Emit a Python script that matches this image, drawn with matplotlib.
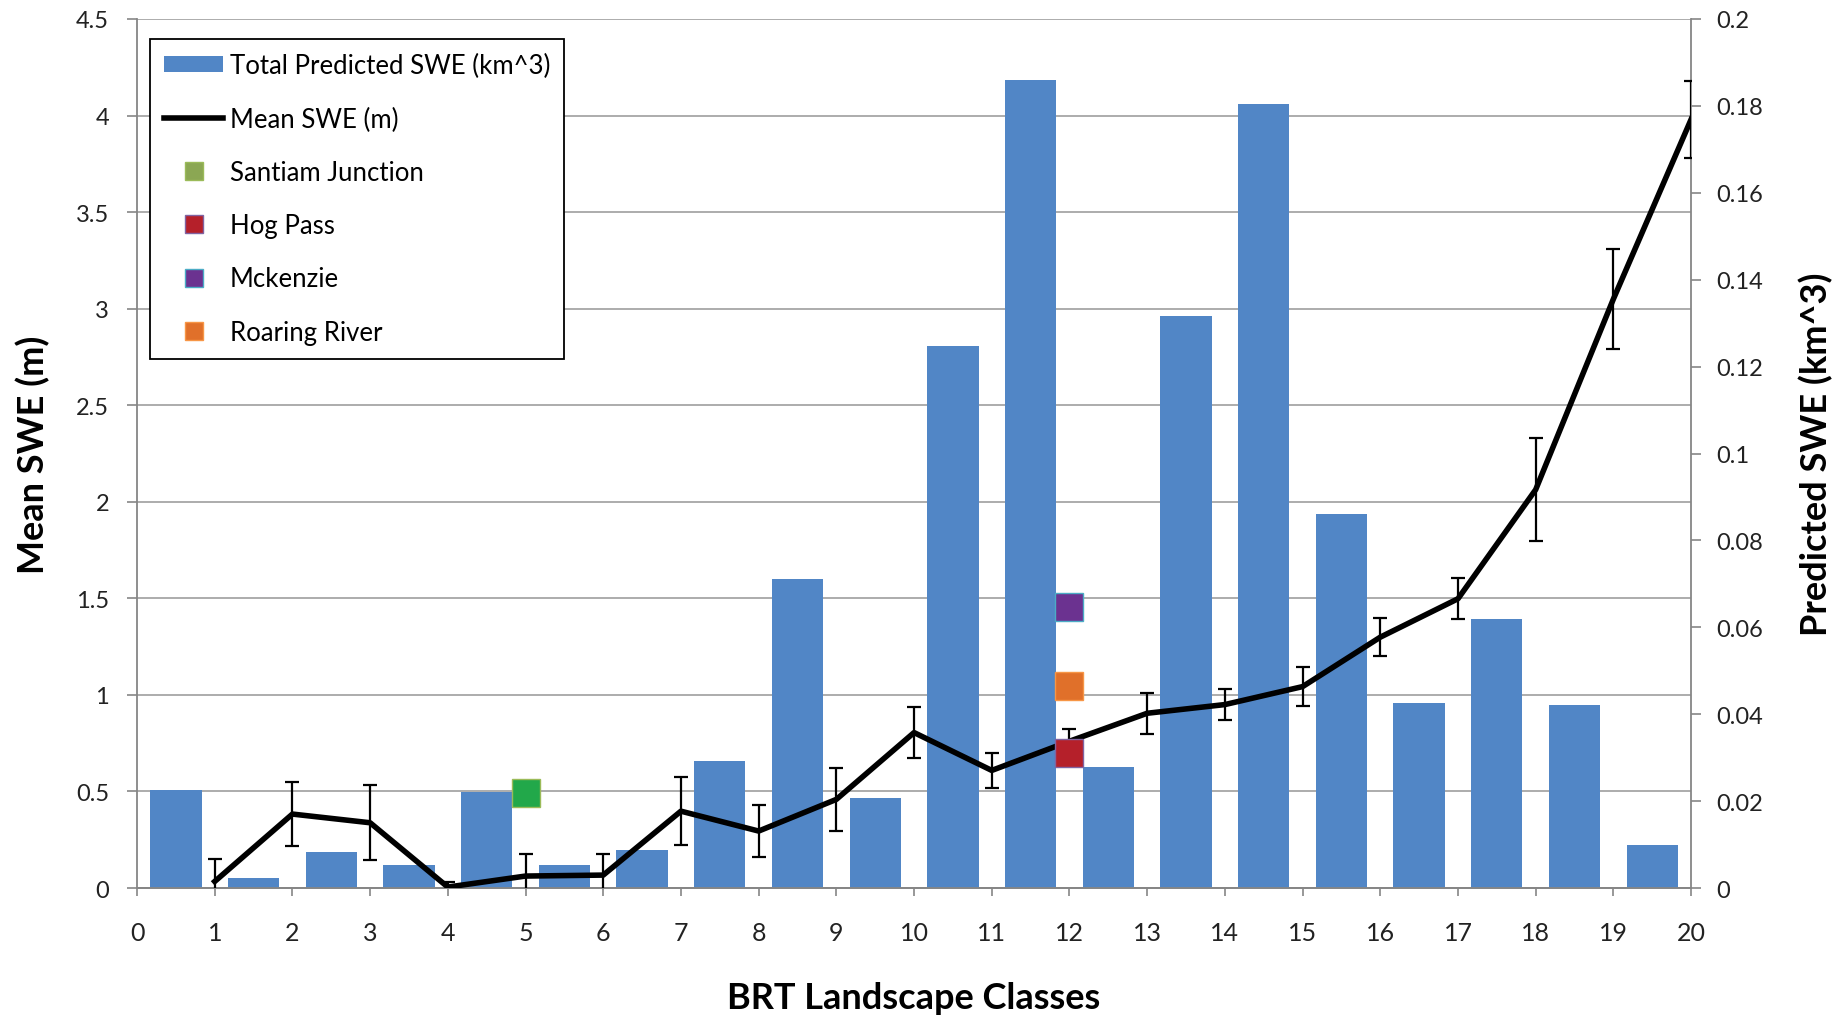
import matplotlib.pyplot as plt
from matplotlib.lines import Line2D
from matplotlib.patches import Patch
from matplotlib.ticker import MultipleLocator, FormatStrFormatter

# BRT landscape classes and the two series drawn against them
classes = list(range(1, 21))
predicted_swe = [0.0226, 0.0023, 0.0084, 0.0052, 0.0222, 0.0052, 0.0087, 0.0293, 0.0711, 0.0207,
                 0.1248, 0.1859, 0.0279, 0.1316, 0.1805, 0.0860, 0.0425, 0.0619, 0.0422, 0.0099]
mean_swe = [0.034, 0.383, 0.338, 0.005, 0.062, 0.067, 0.398, 0.295, 0.459, 0.805,
            0.609, 0.760, 0.905, 0.950, 1.043, 1.299, 1.498, 2.063, 3.050, 3.980]
mean_swe_err = [0.118, 0.165, 0.195, 0.027, 0.114, 0.110, 0.175, 0.136, 0.165, 0.130,
                0.090, 0.065, 0.105, 0.080, 0.100, 0.100, 0.105, 0.265, 0.260, 0.200]

# snow course stations
stations = ['Santiam Junction', 'Hog Pass', 'Mckenzie', 'Roaring River']
station_class = [5, 12, 12, 12]
station_swe = [0.49, 0.70, 1.455, 1.045]
station_face = ['#22A84A', '#B5202A', '#6B3290', '#E0702A']
station_edge = ['#9BBB59', '#8064A2', '#4BACC6', '#F79646']
station_legend_face = ['#8BA753', '#B5202A', '#6B3290', '#E0702A']

bar_color = '#5186C6'
axis_gray = '#868686'
text_color = '#222222'

plt.rcParams['font.family'] = 'Lato'

fig = plt.figure(figsize=(18.49, 10.2), dpi=100)
ax = fig.add_axes([0.0741, 0.1284, 0.8405, 0.852])   # grid + left axis
axb = ax.twinx()                                      # bars, right axis
axl = ax.twinx()                                      # mean SWE line + stations

# bars sit between the integer class ticks
bar_pos = [c - 0.5 for c in classes]
axb.bar(bar_pos, predicted_swe, width=0.66, color=bar_color, linewidth=0)

axl.errorbar(classes, mean_swe, yerr=mean_swe_err, color='black', lw=4,
             ecolor='black', elinewidth=1.6, capsize=5, capthick=1.6, zorder=3)
for x, y, fc, ec in zip(station_class, station_swe, station_face, station_edge):
    axl.plot([x], [y], marker='s', ms=20, mfc=fc, mec=ec, mew=1, ls='none', zorder=4)

# scales
ax.set_xlim(0, 20)
ax.set_ylim(0, 4.5)
axl.set_ylim(0, 4.5)
axb.set_ylim(0, 0.2)

ax.set_xticks(range(21))
ax.set_xticklabels([str(i) for i in range(21)], fontsize=18, color=text_color)
ax.yaxis.set_major_locator(MultipleLocator(0.5))
ax.yaxis.set_major_formatter(FormatStrFormatter('%g'))
axb.yaxis.set_major_locator(MultipleLocator(0.02))
axb.yaxis.set_major_formatter(FormatStrFormatter('%g'))

ax.tick_params(axis='y', direction='out', length=7, width=1.2, color=axis_gray,
               pad=13, labelsize=17, labelcolor=text_color)
ax.tick_params(axis='x', direction='out', length=6, width=1.2, color=axis_gray, pad=18)
axb.tick_params(axis='y', direction='out', length=7, width=1.2, color=axis_gray,
                pad=11, labelsize=17, labelcolor=text_color)
axl.yaxis.set_visible(False)

ax.yaxis.grid(True, color='#A6A6A6', lw=1.3)
ax.set_axisbelow(True)

for s in ['top', 'right']:
    ax.spines[s].set_visible(False)
for s in ['left', 'bottom']:
    ax.spines[s].set_color(axis_gray)
    ax.spines[s].set_linewidth(1.3)
for s in ['top', 'left']:
    axb.spines[s].set_visible(False)
for s in ['right', 'bottom']:
    axb.spines[s].set_color(axis_gray)
    axb.spines[s].set_linewidth(1.3)
for s in axl.spines.values():
    s.set_visible(False)

# axis titles
label_font = dict(fontweight='bold', fontsize=26)
ax.set_xlabel('BRT Landscape Classes', va='center', **label_font)
ax.xaxis.set_label_coords(0.5, -0.1254)
ax.set_ylabel('Mean SWE (m)', va='center', **label_font)
ax.yaxis.set_label_coords(-0.067, 0.5)
axb.set_ylabel('Predicted SWE (km^3)', va='center', **label_font)
axb.yaxis.set_label_coords(1.0804, 0.5)

# legend
handles = [Patch(facecolor=bar_color, linewidth=0),
           Line2D([], [], color='black', lw=4)]
for fc, ec in zip(station_legend_face, station_edge):
    handles.append(Line2D([], [], marker='s', ms=13, mfc=fc, mec=ec, mew=1, ls='none'))
labels = ['Total Predicted SWE (km^3)', 'Mean SWE (m)'] + stations
leg = axl.legend(handles, labels, loc='upper left', bbox_to_anchor=(0.0084, 0.977),
                 prop=dict(size=18.5), frameon=True, fancybox=False,
                 edgecolor='black', framealpha=1, handlelength=2.3, handleheight=0.6,
                 handletextpad=0.25, labelspacing=1.1, borderpad=0.55, borderaxespad=0)
leg.get_frame().set_linewidth(1.3)

fig.savefig('out.png', dpi=100)
